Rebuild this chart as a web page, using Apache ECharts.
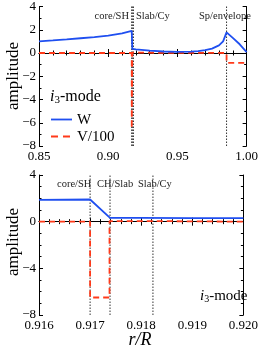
<!DOCTYPE html>
<html><head><meta charset="utf-8">
<script src="https://cdn.jsdelivr.net/npm/echarts@6/dist/echarts.min.js"></script>
<style>html,body{margin:0;padding:0;background:#fff}#c{width:261px;height:350px}</style>
</head><body><div id="c"></div>
<script>
// Top panel data (r/R, amplitude)
const topW = [[0.85,1.0],[0.86,1.08],[0.87,1.17],[0.88,1.27],[0.89,1.37],[0.90,1.49],[0.91,1.68],[0.917,1.9],
  [0.9174,0.35],[0.92,0.31],[0.93,0.2],[0.94,0.13],[0.95,0.1],[0.96,0.12],[0.965,0.17],[0.97,0.25],[0.975,0.38],
  [0.98,0.65],[0.983,1.0],[0.9855,1.78],[0.99,1.3],[0.995,0.75],[1.0,0.08]];
const topV = [[0.85,0],[0.917,0],[0.917,-6.5],[0.9174,-6.5],[0.9174,0.03],[0.9855,0],[0.9855,-0.85],[1.0,-0.85]];
const topLines = [0.917, 0.91739, 0.91823, 0.9855];
// Bottom panel data
const botW = [[0.916,1.86],[0.9165,1.88],[0.917,1.9],[0.91739,0.33],[0.918,0.33],[0.919,0.31],[0.92,0.3]];
const botV = [[0.916,0],[0.917,0],[0.917,-6.5],[0.91738,-6.5],[0.91738,0.05],[0.91823,0.05],[0.91823,0],[0.92,0]];
const botLines = [0.917, 0.91739, 0.91823];
const topXTicks = [0.85, 1.0, 0.05];
const topYTicks = [-8, 4, 2];
const botXTicks = [0.916, 0.920, 0.001];
const botYTicks = [-8, 4, 4];

const BLUE = '#1f4ff0', RED = '#ff3a1a';
const FF = 'Liberation Serif';
const chart = echarts.init(document.getElementById('c'), null, {renderer:'canvas'});

function xAx(gi, t, show, digits, minorN) {
  return {type:'value', gridIndex:gi, min:t[0], max:t[1], interval:t[2], position: show?'bottom':'top',
    axisLine:{show:true, lineStyle:{color:'#000', width:1}},
    axisTick:{show:true, inside:true, length:4, lineStyle:{color:'#000'}},
    minorTick:{show:true, splitNumber:minorN, length:2.5, lineStyle:{color:'#000'}},
    splitLine:{show:false},
    axisLabel:{show:show, color:'#000', fontFamily:FF, fontSize:13, margin:4, formatter:v=>v.toFixed(digits)}};
}
function yAx(gi, t, show, minorN) {
  return {type:'value', gridIndex:gi, min:t[0], max:t[1], interval:t[2], position: show?'left':'right',
    axisLine:{show:true, lineStyle:{color:'#000', width:1}},
    axisTick:{show:true, inside:true, length:4, lineStyle:{color:'#000'}},
    minorTick:{show:true, splitNumber:minorN, length:2.5, lineStyle:{color:'#000'}},
    splitLine:{show:false},
    axisLabel:{show:show, color:'#000', fontFamily:FF, fontSize:13, margin:3, formatter:v=>(v<0?'\u2212'+(-v):''+v)}};
}
function vlineSeries(xs, xi, yi, t){
  return xs.map(x=>({type:'line', xAxisIndex:xi, yAxisIndex:yi, data:[[x,t[0]],[x,t[1]]], symbol:'none', silent:true,
    lineStyle:{color:'#333', type:[1.5,1.5], width:1}, z:1}));
}
const series = [
    {name:'W', type:'line', xAxisIndex:0, yAxisIndex:0, data:topW, symbol:'none',
      lineStyle:{color:BLUE, width:1.8}, itemStyle:{color:BLUE}, z:3},
    {name:'V/100', type:'line', xAxisIndex:0, yAxisIndex:0, data:topV, symbol:'none',
      lineStyle:{color:RED, width:1.8, type:[6,4]}, itemStyle:{color:RED}, z:2},
    {name:'W2', type:'line', xAxisIndex:2, yAxisIndex:2, data:botW, symbol:'none',
      lineStyle:{color:BLUE, width:1.8}, itemStyle:{color:BLUE}, z:3},
    {name:'V2', type:'line', xAxisIndex:2, yAxisIndex:2, data:botV, symbol:'none',
      lineStyle:{color:RED, width:1.8, type:[6,4]}, itemStyle:{color:RED}, z:2}
].concat(vlineSeries(topLines,0,0,topYTicks), vlineSeries(botLines,2,2,botYTicks));

const rich = (fs)=>({i:{fontFamily:FF, fontStyle:'italic', fontSize:fs, fill:'#000'},
  s:{fontFamily:FF, fontSize:fs-5, fill:'#000', padding:[7,0,0,0]}, n:{fontFamily:FF, fontSize:fs, fill:'#000'}});
const LF = '10.5px "Liberation Serif"';
const option = {
  animation:false,
  grid:[{left:39, top:6, width:208, height:140},{left:39, top:175, width:208, height:140}],
  xAxis:[xAx(0,topXTicks,true,2,5), xAx(0,topXTicks,false,2,5), xAx(1,botXTicks,true,3,5), xAx(1,botXTicks,false,3,5)],
  yAxis:[yAx(0,topYTicks,true,2), yAx(0,topYTicks,false,2), yAx(1,botYTicks,true,4), yAx(1,botYTicks,false,4)],
  series: series,
  graphic:[
    {type:'text', x:14, y:76, rotation:Math.PI/2, style:{text:'amplitude', font:'17px "Liberation Serif"', fill:'#000', align:'center', verticalAlign:'middle'}},
    {type:'text', x:14, y:242, rotation:Math.PI/2, style:{text:'amplitude', font:'17px "Liberation Serif"', fill:'#000', align:'center', verticalAlign:'middle'}},
    {type:'text', x:140, y:340, style:{text:'r/R', font:'italic 18px "Liberation Serif"', fill:'#000', align:'center', verticalAlign:'middle'}},
    {type:'text', x:129, y:16, style:{text:'core/SH', font:LF, fill:'#222', align:'right', verticalAlign:'middle'}},
    {type:'text', x:136, y:16, style:{text:'Slab/Cy', font:LF, fill:'#222', verticalAlign:'middle'}},
    {type:'text', x:199, y:16, style:{text:'Sp/envelope', font:LF, fill:'#222', verticalAlign:'middle'}},
    {type:'text', x:57, y:184, style:{text:'core/SH', font:LF, fill:'#222', verticalAlign:'middle'}},
    {type:'text', x:97, y:184, style:{text:'CH/Slab', font:LF, fill:'#222', verticalAlign:'middle'}},
    {type:'text', x:138, y:184, style:{text:'Slab/Cy', font:LF, fill:'#222', verticalAlign:'middle'}},
    {type:'text', x:50, y:97, style:{text:'{i|i}{s|3}{n|-mode}', verticalAlign:'middle', rich:rich(16)}},
    {type:'text', x:200, y:296, style:{text:'{i|i}{s|3}{n|-mode}', verticalAlign:'middle', rich:rich(15)}},
    // legend
    {type:'line', shape:{x1:51, y1:119.5, x2:72, y2:119.5}, style:{stroke:BLUE, lineWidth:1.8}},
    {type:'text', x:77, y:120, style:{text:'W', font:'15px "Liberation Serif"', fill:'#000', verticalAlign:'middle'}},
    {type:'line', shape:{x1:51, y1:136.5, x2:72, y2:136.5}, style:{stroke:RED, lineWidth:1.8, lineDash:[7,5]}},
    {type:'text', x:77, y:137, style:{text:'V/100', font:'15px "Liberation Serif"', fill:'#000', verticalAlign:'middle'}}
  ]
};
chart.setOption(option);
</script></body></html>
